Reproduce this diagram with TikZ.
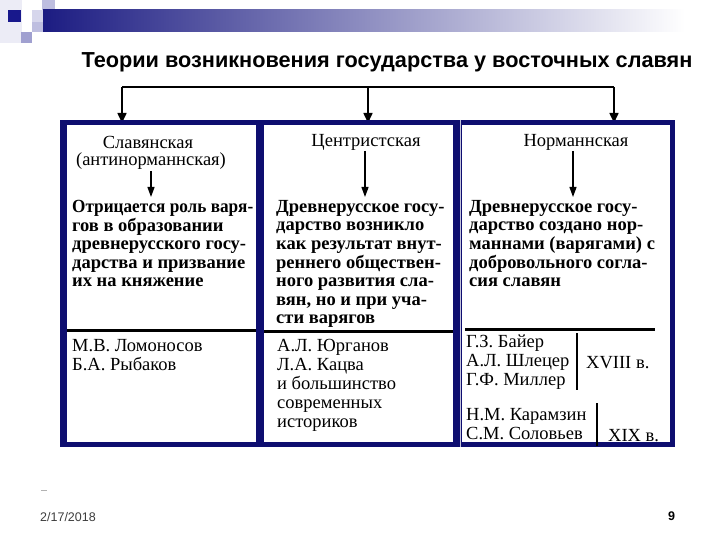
\documentclass[tikz,border=0pt]{standalone}
\usepackage{fontspec}
\setmainfont{Liberation Serif}
\newfontfamily\sansfam{Liberation Sans}
\usetikzlibrary{arrows.meta}
\definecolor{navy}{RGB}{14,14,112}
\definecolor{barnavy}{RGB}{28,28,130}
\definecolor{lavA}{RGB}{236,236,246}
\definecolor{lavB}{RGB}{214,214,236}
\definecolor{lavC}{RGB}{190,190,224}
\definecolor{lavD}{RGB}{160,160,208}
\definecolor{sqnavy}{RGB}{24,24,140}
\definecolor{footgray}{RGB}{60,60,60}
\begin{document}
\begin{tikzpicture}[x=1bp,y=-1bp,
  toparrow/.style={line width=1.6bp,-{Triangle[length=10bp,width=9bp]}},
  inarrow/.style={line width=1.2bp,-{Triangle[length=10bp,width=7bp]}},
  head/.style={inner sep=0, font=\fontsize{18.5bp}{19bp}\selectfont},
  body/.style={anchor=north west, inner sep=0, align=left, font=\fontsize{18.5bp}{18.6bp}\selectfont\bfseries},
  names/.style={anchor=north west, inner sep=0, align=left, font=\fontsize{18.5bp}{19bp}\selectfont},
  sepline/.style={line width=3bp},
  vbar/.style={line width=1.5bp}]
\useasboundingbox (0,0) rectangle (720,540);
% decoration
\fill[lavA] (0,0) rectangle (22,43);
\fill[lavC] (42,0) rectangle (55,10);
\fill[lavB] (32,10) rectangle (43,22);
\fill[lavC] (32,22) rectangle (43,32);
\fill[lavD] (21,32) rectangle (32,43);
\fill[sqnavy] (8,10) rectangle (21,22);
\shade[left color=barnavy, right color=white] (43,10) rectangle (685,32);
% title
\node[font=\sansfam\bfseries\fontsize{21.7bp}{24bp}\selectfont] (title) at (387,62)
  {Теории возникновения государства у восточных славян};
% top connectors
\coordinate (hl) at (122,87);
\coordinate (hm) at (368,87);
\coordinate (hr) at (614,87);
\coordinate (t1) at (122,123);
\coordinate (t2) at (368,123);
\coordinate (t3) at (614,123);
\draw[line width=1.6bp] (hl) -- (hr);
\draw[toparrow] (hl) -- (t1);
\draw[toparrow] (hm) -- (t2);
\draw[toparrow] (hr) -- (t3);
% frame
\fill[navy] (60,120) rectangle (675,447);
\fill[white] (67,125) rectangle (256,442);
\fill[white] (264,125) rectangle (453,442);
\fill[white] (462,125) rectangle (670,442);
\draw[white!75!navy, line width=0.8bp] (460,120) -- (460,447);
% headings
\node[head] (h1a) at (148,142) {Славянская};
\node[head] (h1b) at (151,161) {(антинорманнская)};
\node[head] (h2) at (366,142) {Центристская};
\node[head] (h3) at (576,142) {Норманнская};
% inner arrows
\coordinate (a1) at (151,171);
\coordinate (b1) at (151,197);
\coordinate (a2) at (365,151);
\coordinate (b2) at (365,197);
\coordinate (a3) at (573,151);
\coordinate (b3) at (573,197);
\draw[inarrow] (a1) -- (b1);
\draw[inarrow] (a2) -- (b2);
\draw[inarrow] (a3) -- (b3);
% bodies
\node[body] (d1) at (72,200) {\scalebox{0.93}[1]{Отрицается роль варя-}\\гов в образовании\\древнерусского госу-\\дарства и призвание\\их на княжение};
\node[body] (d2) at (276,200) {Древнерусское госу-\\дарство возникло\\как результат внут-\\реннего обществен-\\ного развития сла-\\вян, но и при уча-\\сти варягов};
\node[body] (d3) at (469,200) {Древнерусское госу-\\дарство создано нор-\\маннами (варягами) с\\добровольного согла-\\сия славян};
% separators
\coordinate (s1a) at (67,330); \coordinate (s1b) at (256,330);
\coordinate (s2a) at (264,331); \coordinate (s2b) at (453,331);
\coordinate (s3a) at (465,329); \coordinate (s3b) at (655,329);
\draw[sepline] (s1a) -- (s1b);
\draw[sepline] (s2a) -- (s2b);
\draw[sepline] (s3a) -- (s3b);
% names
\node[names] (n1) at (72,339) {М.В. Ломоносов\\Б.А. Рыбаков};
\node[names] (n2) at (277,339) {А.Л. Юрганов\\Л.А. Кацва\\и большинство\\современных\\историков};
\node[names] (n3) at (466,335) {Г.З. Байер\\А.Л. Шлецер\\Г.Ф. Миллер};
\node[names] (n4) at (466,408) {Н.М. Карамзин\\С.М. Соловьев};
\coordinate (v1a) at (577,333); \coordinate (v1b) at (577,390);
\coordinate (v2a) at (597,403); \coordinate (v2b) at (597,446);
\draw[vbar] (v1a) -- (v1b);
\draw[vbar] (v2a) -- (v2b);
\node[head, anchor=base west] (c18) at (586,368) {XVIII в.};
\node[head, anchor=base west] (c19) at (608,441) {XIX в.};
% footer
\draw[black!30, line width=0.8bp] (41,490) -- (47,490);
\node[anchor=base west, inner sep=0, text=footgray, font=\sansfam\fontsize{12.5bp}{14bp}\selectfont] (date) at (40,521) {2/17/2018};
\node[anchor=base west, inner sep=0, font=\sansfam\bfseries\fontsize{12.5bp}{14bp}\selectfont] (pg) at (668,520) {9};
\end{tikzpicture}
\end{document}
